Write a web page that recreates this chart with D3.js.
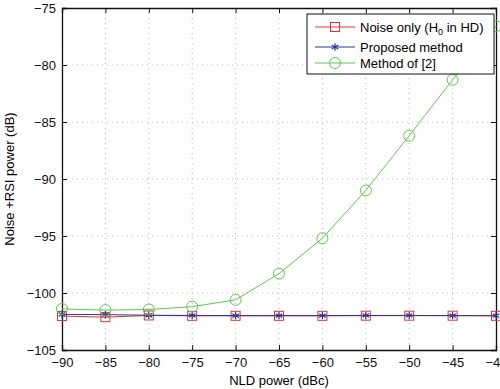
<!DOCTYPE html>
<html>
<head>
<meta charset="utf-8">
<script src="https://cdn.jsdelivr.net/npm/d3@7"></script>
<style>
  body { margin: 0; background: #fff; }
  svg text { font-family: "Liberation Sans", Arial, sans-serif; }
</style>
</head>
<body>
<div id="chart"></div>
<script>
var nldPower = [-90, -85, -80, -75, -70, -65, -60, -55, -50, -45, -40];
var noiseOnly = [-102.02, -102.12, -101.97, -102.0, -102.0, -102.0, -102.0, -101.99, -101.99, -101.99, -102.0];
var proposed = [-101.87, -101.9, -101.95, -101.97, -101.98, -101.98, -101.98, -101.97, -101.97, -101.98, -101.99];
var methodOf2 = [-101.4, -101.5, -101.45, -101.2, -100.6, -98.3, -95.2, -91.0, -86.2, -81.3, -76.6];
var xTicks = [-90, -85, -80, -75, -70, -65, -60, -55, -50, -45, -40];
var yTicks = [-105, -100, -95, -90, -85, -80, -75];

var margin = { top: 8, right: 4, bottom: 39, left: 62 },
    width = 500 - margin.left - margin.right,
    height = 389 - margin.top - margin.bottom;

var svg = d3.select("#chart")
    .append("svg")
    .attr("width", 500)
    .attr("height", 389)
    .append("g")
    .attr("transform", "translate(" + margin.left + "," + margin.top + ")");

var x = d3.scaleLinear().domain([-90, -40]).range([0, width]);
var y = d3.scaleLinear().domain([-105, -75]).range([height, 0]);

// dotted grid
svg.append("g").selectAll("line")
    .data(xTicks.slice(1, -1))
    .enter().append("line")
    .attr("x1", function (d) { return x(d) }).attr("x2", function (d) { return x(d) })
    .attr("y1", 0).attr("y2", height)
    .attr("stroke", "#aaa").attr("stroke-width", 0.8)
    .attr("stroke-dasharray", "1,4");
svg.append("g").selectAll("line")
    .data(yTicks.slice(1, -1))
    .enter().append("line")
    .attr("y1", function (d) { return y(d) }).attr("y2", function (d) { return y(d) })
    .attr("x1", 0).attr("x2", width)
    .attr("stroke", "#aaa").attr("stroke-width", 0.8)
    .attr("stroke-dasharray", "1,4");

// axes with inward ticks
function fmt(d) { return d < 0 ? "\u2212" + Math.abs(d) : d }
var xAxis = svg.append("g").attr("transform", "translate(0," + height + ")")
    .call(d3.axisBottom(x).tickValues(xTicks).tickSize(-5).tickPadding(8).tickFormat(fmt));
var xTop = svg.append("g")
    .call(d3.axisTop(x).tickValues(xTicks).tickSize(-5).tickFormat(""));
var yAxis = svg.append("g")
    .call(d3.axisLeft(y).tickValues(yTicks).tickSize(-5).tickPadding(6).tickFormat(fmt));
var yRight = svg.append("g").attr("transform", "translate(" + width + ",0)")
    .call(d3.axisRight(y).tickValues(yTicks).tickSize(-5).tickFormat(""));
[xAxis, xTop, yAxis, yRight].forEach(function (a) {
    a.select(".domain").attr("stroke", "#111").attr("stroke-width", 1.3);
    a.selectAll(".tick line").attr("stroke", "#111");
    a.selectAll("text").attr("font-size", 13).attr("fill", "#111");
});

svg.append("text")
    .attr("x", width / 2).attr("y", height + 35)
    .attr("text-anchor", "middle").attr("font-size", 13)
    .text("NLD power (dBc)");
svg.append("text")
    .attr("transform", "rotate(-90)")
    .attr("x", -height / 2).attr("y", -48)
    .attr("text-anchor", "middle").attr("font-size", 13)
    .text("Noise +RSI power (dB)");

var series = [
    { name: "noise", values: noiseOnly, color: "#e3342c", marker: "square" },
    { name: "proposed", values: proposed, color: "#2a3896", marker: "star" },
    { name: "method2", values: methodOf2, color: "#5ec94d", marker: "circle" }
];

var line = d3.line()
    .x(function (d, i) { return x(nldPower[i]) })
    .y(function (d) { return y(d) });

function drawMarker(g, type, color) {
    if (type === "square") {
        g.append("rect").attr("x", -4.5).attr("y", -4.5).attr("width", 9).attr("height", 9)
            .attr("fill", "none").attr("stroke", color).attr("stroke-width", 1);
    } else if (type === "circle") {
        g.append("circle").attr("r", 5.5)
            .attr("fill", "none").attr("stroke", color).attr("stroke-width", 1);
    } else {
        g.append("path").attr("d", d3.symbol(d3.symbolAsterisk, 40)())
            .attr("fill", "none").attr("stroke", color).attr("stroke-width", 1.2);
    }
}

series.forEach(function (s) {
    svg.append("path")
        .datum(s.values)
        .attr("d", line)
        .attr("fill", "none")
        .attr("stroke", s.color)
        .attr("stroke-width", 1);
    svg.append("g").selectAll("g")
        .data(s.values)
        .enter().append("g")
        .attr("transform", function (d, i) { return "translate(" + x(nldPower[i]) + "," + y(d) + ")" })
        .each(function () { drawMarker(d3.select(this), s.marker, s.color) });
});

// legend
var lg = svg.append("g").attr("transform", "translate(" + (307 - margin.left) + "," + (14 - margin.top) + ")");
lg.append("rect").attr("width", 187).attr("height", 60)
    .attr("fill", "#fff").attr("stroke", "#111").attr("stroke-width", 1);
var rows = [13, 33, 49];
series.forEach(function (s, i) {
    var r = lg.append("g").attr("transform", "translate(0," + rows[i] + ")");
    r.append("line").attr("x1", 8).attr("x2", 48)
        .attr("stroke", s.color).attr("stroke-width", 1);
    drawMarker(r.append("g").attr("transform", "translate(28,0)"), s.marker, s.color);
});
var t0 = lg.append("text").attr("x", 53).attr("y", rows[0] + 4.5).attr("font-size", 13);
t0.append("tspan").text("Noise only (H");
t0.append("tspan").attr("font-size", 9).attr("dy", 3).text("0");
t0.append("tspan").attr("dy", -3).text(" in HD)");
lg.append("text").attr("x", 53).attr("y", rows[1] + 4.5).attr("font-size", 13).text("Proposed method");
lg.append("text").attr("x", 53).attr("y", rows[2] + 4.5).attr("font-size", 13).text("Method of [2]");
</script>
</body>
</html>
